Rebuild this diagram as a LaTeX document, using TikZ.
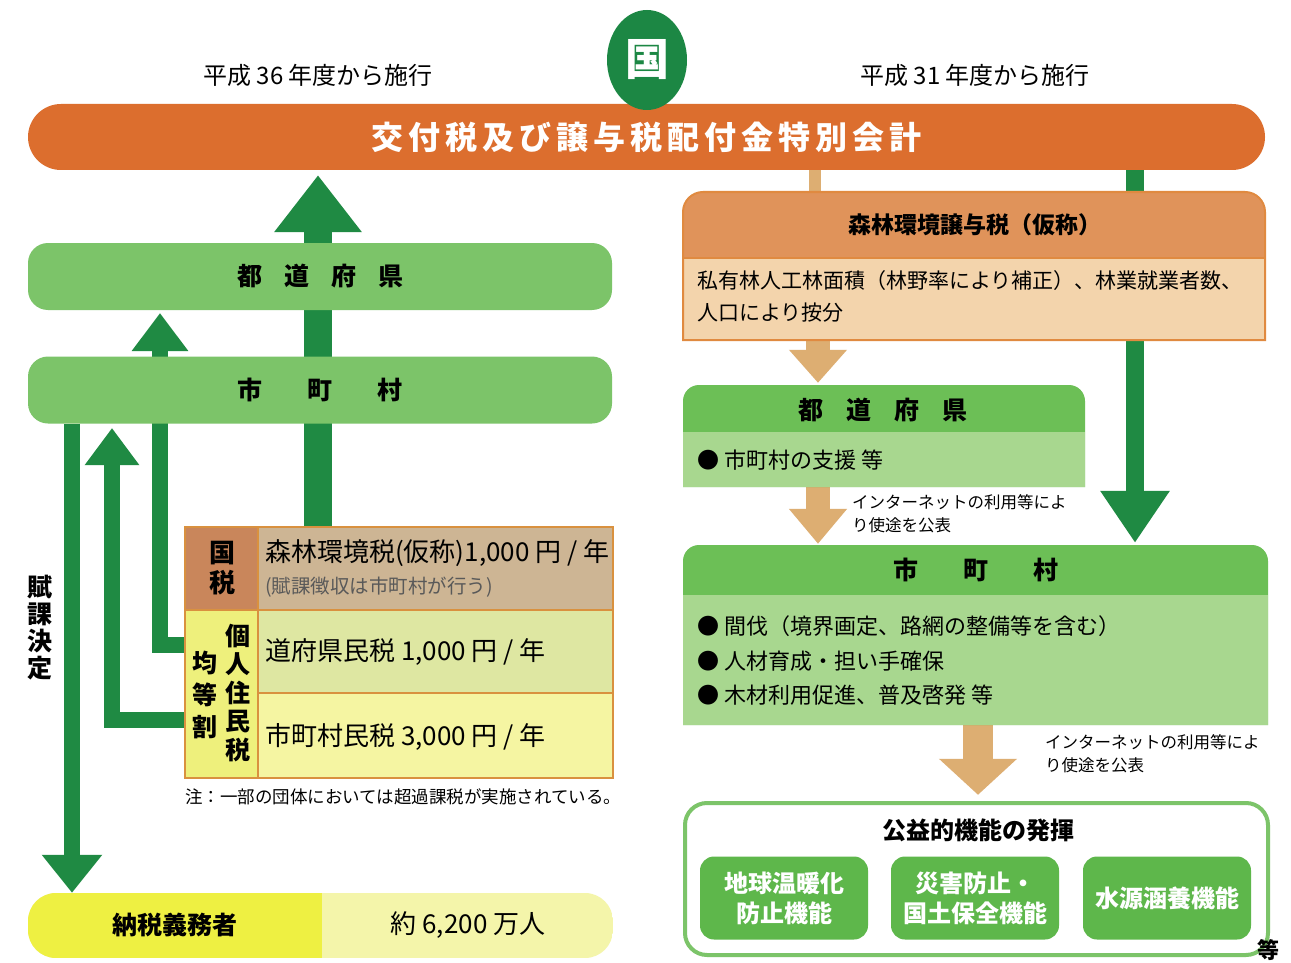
\documentclass[tikz,border=0pt]{standalone}
\usepackage{fontspec}
\setmainfont{Noto Sans CJK JP}
\usetikzlibrary{arrows.meta,calc,shapes.geometric}
\definecolor{orangebar}{HTML}{DC6E2E}
\definecolor{darkgreen}{HTML}{1F8A43}
\definecolor{circgreen}{HTML}{1C8744}
\definecolor{bargreen}{HTML}{7CC469}
\definecolor{hdrgreen}{HTML}{6CBF56}
\definecolor{lowgreen}{HTML}{A8D78F}
\definecolor{boxgreen}{HTML}{5EB74B}
\definecolor{tanarrow}{HTML}{DDAE72}
\definecolor{shdr}{HTML}{E0935A}
\definecolor{slow}{HTML}{F3D4AC}
\definecolor{sborder}{HTML}{E08A40}
\definecolor{taxleft}{HTML}{C9865B}
\definecolor{taxright}{HTML}{CDB594}
\definecolor{tborder}{HTML}{D9913F}
\definecolor{yleft}{HTML}{EEF07C}
\definecolor{yrow2}{HTML}{DEE7A2}
\definecolor{yrow3}{HTML}{F5F5A2}
\definecolor{nzleft}{HTML}{EEF042}
\definecolor{nzright}{HTML}{F4F5AA}
\newcommand{\fsz}[2]{\fontsize{#1}{#2}\selectfont}
\begin{document}
\begin{tikzpicture}[x=1pt,y=-1pt,
  lbl/.style={inner sep=0pt, text=black},
  greenbar/.style={fill=bargreen, rounded corners=20pt, inner sep=0pt, minimum width=584pt, minimum height=67pt},
  ghost/.style={inner sep=0pt, draw=none},
  garrow/.style={draw=darkgreen},
  tarrow/.style={draw=tanarrow},
  funcbox/.style={fill=boxgreen, rounded corners=14pt, minimum width=168pt, minimum height=83pt, inner sep=0pt, text=white, font=\bfseries\fsz{24}{30}, align=center},
]
\useasboundingbox (0,0) rectangle (1291,963);
\fill[white] (0,0) rectangle (1291,963);

% ---------- invisible frames for anchoring ----------
\node[ghost, minimum width=428pt, minimum height=251pt] (tbl) at (399,652.5) {};
\node[ghost, minimum width=582pt, minimum height=148pt] (sbox) at (974,266) {};
\node[ghost, minimum width=402pt, minimum height=102pt] (rdof) at (884,436) {};
\node[ghost, minimum width=585pt, minimum height=180pt] (rshi) at (975.5,635) {};
\node[ghost, minimum width=583pt, minimum height=152pt] (koeki) at (976.5,879) {};
\node[ghost, minimum width=585pt, minimum height=65pt] (nozei) at (320.5,925.5) {};
\coordinate (xbig) at (318,0);
\coordinate (xin) at (160,645);
\coordinate (xout) at (112,720);
\coordinate (xlong) at (72,0);
\coordinate (xtan) at (818,0);
\coordinate (xtanline) at (815,0);
\coordinate (xgr) at (1135,0);
\coordinate (xtan3) at (978,0);

% ---------- top bar ----------
\node[fill=orangebar, rounded corners=33pt, minimum width=1237pt, minimum height=66pt, inner sep=0pt,
      text=white, font=\bfseries\fsz{32}{36}] (kofu) at (646.5,137)
  {交\hspace{5pt}付\hspace{5pt}税\hspace{5pt}及\hspace{5pt}び\hspace{5pt}譲\hspace{5pt}与\hspace{5pt}税\hspace{5pt}配\hspace{5pt}付\hspace{5pt}金\hspace{5pt}特\hspace{5pt}別\hspace{5pt}会\hspace{5pt}計};
\node[ellipse, fill=circgreen, minimum width=80pt, minimum height=100pt, inner sep=0pt,
      text=white, font=\bfseries\fsz{44}{48}] (kuni) at (647,60) {国};
\node[lbl, font=\fsz{24}{28}] (h36) at (318,75) {平成 36 年度から施行};
\node[lbl, font=\fsz{24}{28}] (h31) at (975,75) {平成 31 年度から施行};

% ---------- left arrows (behind bars) ----------
\draw[garrow, line width=28pt, -{Triangle[width=84pt,length=57pt]}, shorten >=5pt]
  (tbl.north -| xbig) -- (kofu.south -| xbig);
\draw[garrow, line width=16pt, -{Triangle[width=54pt,length=38pt]}, shorten >=3pt]
  (tbl.west |- xin) -| (0,310 -| xin);
\draw[garrow, line width=16pt, -{Triangle[width=52pt,length=37pt]}, shorten >=5pt]
  (tbl.west |- xout) -| (0,423 -| xout);

% ---------- left bars ----------
\node[greenbar, font=\bfseries\fsz{25}{28}] (ldof) at (320,276.5)
  {都\hspace{22pt}道\hspace{22pt}府\hspace{22pt}県};
\node[greenbar, font=\bfseries\fsz{25}{28}] (lshi) at (320,390)
  {市\hspace{45pt}町\hspace{45pt}村};

\draw[garrow, line width=16pt, -{Triangle[width=58pt,length=38pt]}]
  (lshi.south -| xlong) -- (nozei.north -| xlong);
\node[lbl, font=\bfseries\fsz{25}{27}, align=center, text width=26pt] (fuka) at (40,628) {賦\\課\\決\\定};

% ---------- table ----------
\begin{scope}[draw=tborder, line width=1.5pt]
\filldraw[fill=taxleft] (185,527) rectangle (258,610);
\filldraw[fill=taxright] (258,527) rectangle (613,610);
\filldraw[fill=yleft] (185,610) rectangle (258,778);
\filldraw[fill=yrow2] (258,610) rectangle (613,693);
\filldraw[fill=yrow3] (258,693) rectangle (613,778);
\draw[line width=2.5pt] (185,527) rectangle (613,778);
\draw[line width=2.5pt] (185,610) -- (613,610);
\end{scope}
\node[lbl, font=\bfseries\fsz{26}{30}, align=center, text width=28pt] (kokuzei) at (222,568) {国\\税};
\node[lbl, font=\bfseries\fsz{25}{32}, align=center, text width=28pt] (kinto) at (205,695) {均\\等\\割};
\node[lbl, font=\bfseries\fsz{25}{28.5}, align=center, text width=28pt] (kojin) at (238,693) {個\\人\\住\\民\\税};
\node[lbl, anchor=west, font=\fsz{26}{30}] (t1) at (265,553) {森林環境税(仮称)1,000 円 / 年};
\node[lbl, anchor=west, font=\fsz{19.5}{24}, text=black!65] (t1b) at (265,587) {(賦課徴収は市町村が行う)};
\node[lbl, anchor=west, font=\fsz{26}{30}] (t2) at (265,652) {道府県民税 1,000 円 / 年};
\node[lbl, anchor=west, font=\fsz{26}{30}] (t3) at (265,737) {市町村民税 3,000 円 / 年};
\node[lbl, anchor=west, font=\fsz{17.5}{22}] (note) at (185,797) {注：一部の団体においては超過課税が実施されている。};

% ---------- bottom bar ----------
\begin{scope}
\clip[rounded corners=28pt] (28,893) rectangle (613,958);
\fill[nzright] (28,893) rectangle (613,958);
\fill[nzleft] (28,893) rectangle (322,958);
\end{scope}
\node[lbl, font=\bfseries\fsz{25}{28}] (nz1) at (175,925) {納税義務者};
\node[lbl, font=\fsz{26}{30}] (nz2) at (468,925) {約 6,200 万人};

% ---------- right side connectors ----------
\draw[tarrow, line width=12pt] (kofu.south -| xtanline) -- (sbox.north -| xtanline);
\draw[garrow, line width=18pt, -{Triangle[width=66pt,length=52pt]}, shorten >=2pt]
  (kofu.south -| xgr) -- (rshi.north -| xgr);
\draw[tarrow, line width=24pt, -{Triangle[width=56pt,length=33pt]}, shorten >=2pt]
  (sbox.south -| xtan) -- (rdof.north -| xtan);
\draw[tarrow, line width=24pt, -{Triangle[width=56pt,length=35pt]}, shorten >=1pt]
  (rdof.south -| xtan) -- (rshi.north -| xtan);
\draw[tarrow, line width=30pt, -{Triangle[width=76pt,length=36pt]}, shorten >=8pt]
  (rshi.south -| xtan3) -- (koeki.north -| xtan3);

% ---------- shinrin box ----------
\fill[shdr] (683,340) [rounded corners=20pt] -- (683,192) -- (1265,192) [sharp corners] -- (1265,340) -- cycle;
\fill[slow] (683,258) rectangle (1265,340);
\draw[sborder, line width=2pt] (683,340) [rounded corners=20pt] -- (683,192) -- (1265,192) [sharp corners] -- (1265,340) -- cycle;
\draw[sborder, line width=1.5pt] (683,258) -- (1265,258);
\node[lbl, font=\bfseries\fsz{23}{26}] (shinrin) at (975,225) {森林環境譲与税（仮称）};
\node[lbl, anchor=north west, align=left, font=\fsz{21}{32}] (anbun) at (697,270)
  {私有林人工林面積（林野率により補正）、林業就業者数、\\人口により按分};

% ---------- right dofuken ----------
\fill[hdrgreen] (683,487) [rounded corners=16pt] -- (683,385) -- (1085,385) [sharp corners] -- (1085,487) -- cycle;
\fill[lowgreen] (683,432) rectangle (1085,487);
\node[lbl, font=\bfseries\fsz{25}{28}] (rdoft) at (883,410) {都\hspace{23pt}道\hspace{23pt}府\hspace{23pt}県};
\node[lbl, anchor=west, font=\fsz{22}{26}] (rdofb) at (697,460) {● 市町村の支援 等};
\node[lbl, anchor=north west, align=left, font=\fsz{16.5}{23}] (pub1) at (852,494)
  {インターネットの利用等によ\\り使途を公表};

% ---------- right shichoson ----------
\fill[hdrgreen] (683,725) [rounded corners=16pt] -- (683,545) -- (1268,545) [sharp corners] -- (1268,725) -- cycle;
\fill[lowgreen] (683,595) rectangle (1268,725);
\node[lbl, font=\bfseries\fsz{25}{28}] (rshit) at (976,570) {市\hspace{45pt}町\hspace{45pt}村};
\node[lbl, anchor=west, font=\fsz{22}{26}] (b1) at (697,626) {● 間伐（境界画定、路網の整備等を含む）};
\node[lbl, anchor=west, font=\fsz{22}{26}] (b2) at (697,661) {● 人材育成・担い手確保};
\node[lbl, anchor=west, font=\fsz{22}{26}] (b3) at (697,695) {● 木材利用促進、普及啓発 等};
\node[lbl, anchor=north west, align=left, font=\fsz{16.5}{23}] (pub2) at (1045,734)
  {インターネットの利用等によ\\り使途を公表};

% ---------- koeki box ----------
\draw[bargreen, line width=4pt, fill=white, rounded corners=22pt] (685,803) rectangle (1268,955);
\node[lbl, font=\bfseries\fsz{24}{28}] (koekit) at (978,830) {公益的機能の発揮};
\node[funcbox] (f1) at (784,898) {地球温暖化\\防止機能};
\node[funcbox] (f2) at (975,898) {災害防止・\\国土保全機能};
\node[funcbox] (f3) at (1167,898) {水源涵養機能};
\node[lbl, font=\bfseries\fsz{22}{24}] (etc) at (1268,950) {等};
\end{tikzpicture}
\end{document}
